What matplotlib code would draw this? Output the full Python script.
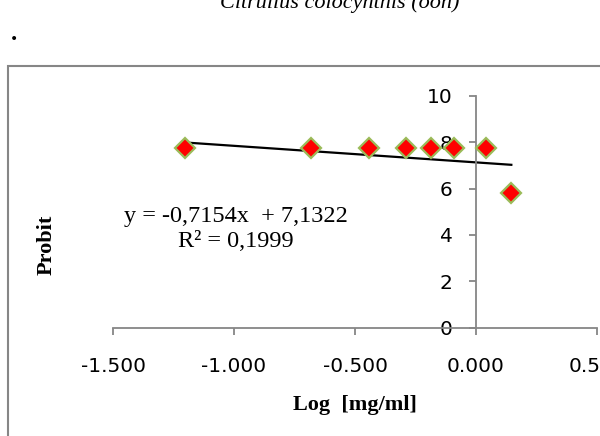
import matplotlib
matplotlib.use("Agg")
import matplotlib.pyplot as plt
from matplotlib.patches import Rectangle

# data
LOG_DOSE = [-1.204, -0.680, -0.444, -0.290, -0.187, -0.092, 0.041, 0.146]
PROBIT = [7.75, 7.75, 7.75, 7.75, 7.75, 7.75, 7.75, 5.80]
SLOPE = -0.7154
INTERCEPT = 7.1322
R2 = 0.1999
X_TICKS = [-1.5, -1.0, -0.5, 0.0, 0.5]
Y_TICKS = [0, 2, 4, 6, 8, 10]

W, H = 600, 436
GRAY = "#868686"

fig = plt.figure(figsize=(W / 100, H / 100), dpi=100)

# outer chart frame (runs off the right and bottom edge)
fig.add_artist(Rectangle((8 / W, -0.2), 1.2, 1 - 66 / H + 0.2, transform=fig.transFigure,
                         fill=False, edgecolor=GRAY, linewidth=1.5))

# cut-off caption above the chart
fig.text(340 / W, 1 - 8 / H, "Citrullus colocynthis (oon)", family="Liberation Serif",
         style="italic", fontsize=16, ha="center", va="baseline")
fig.text(11 / W, 1 - 40 / H, ".", family="Liberation Serif", fontweight="bold",
         fontsize=18, ha="left", va="baseline")

ax = fig.add_axes([113 / W, 1 - 327.5 / H, (597 - 113) / W, (327.5 - 96) / H])
ax.set_xlim(-1.5, 0.5)
ax.set_ylim(0, 10)

xs = [min(LOG_DOSE), max(LOG_DOSE)]
ax.plot(xs, [SLOPE * x + INTERCEPT for x in xs], color="black", lw=1.6, zorder=2)
ax.plot(LOG_DOSE, PROBIT, linestyle="none", marker="D", ms=10.5, mfc="#ff0000",
        mec="#9bbb59", mew=1.6, zorder=3, clip_on=False)

for s in ["top", "right"]:
    ax.spines[s].set_visible(False)
ax.spines["left"].set_position(("data", 0))
for s in ["left", "bottom"]:
    ax.spines[s].set_color(GRAY)
    ax.spines[s].set_linewidth(1.3)

ax.set_xticks(X_TICKS)
ax.set_xticklabels(["%.3f" % v for v in X_TICKS])
ax.set_yticks(Y_TICKS)
ax.tick_params(axis="x", direction="out", length=5, width=1.3, color=GRAY, pad=16,
               labelsize=14.5)
ax.tick_params(axis="y", direction="out", length=5, width=1.3, color=GRAY, pad=12,
               labelsize=14.5)
for lab in ax.get_xticklabels() + ax.get_yticklabels():
    lab.set_zorder(1)

ax.set_xlabel("Log  [mg/ml]", family="Liberation Serif", fontweight="bold", fontsize=16,
              labelpad=14)
fig.text(47 / W, 1 - 245 / H, "Probit", family="Liberation Serif", fontweight="bold",
         fontsize=16, rotation=90, ha="center", va="center")

eq = "y = -%sx  + %s\nR² = %s" % (
    ("%.4f" % -SLOPE).replace(".", ","), ("%.4f" % INTERCEPT).replace(".", ","),
    ("%.4f" % R2).replace(".", ","))
fig.text(236 / W, 1 - 229 / H, eq, family="Liberation Serif", fontsize=17.5,
         ha="center", va="center", linespacing=1.3)

fig.savefig("out.png", dpi=100)
